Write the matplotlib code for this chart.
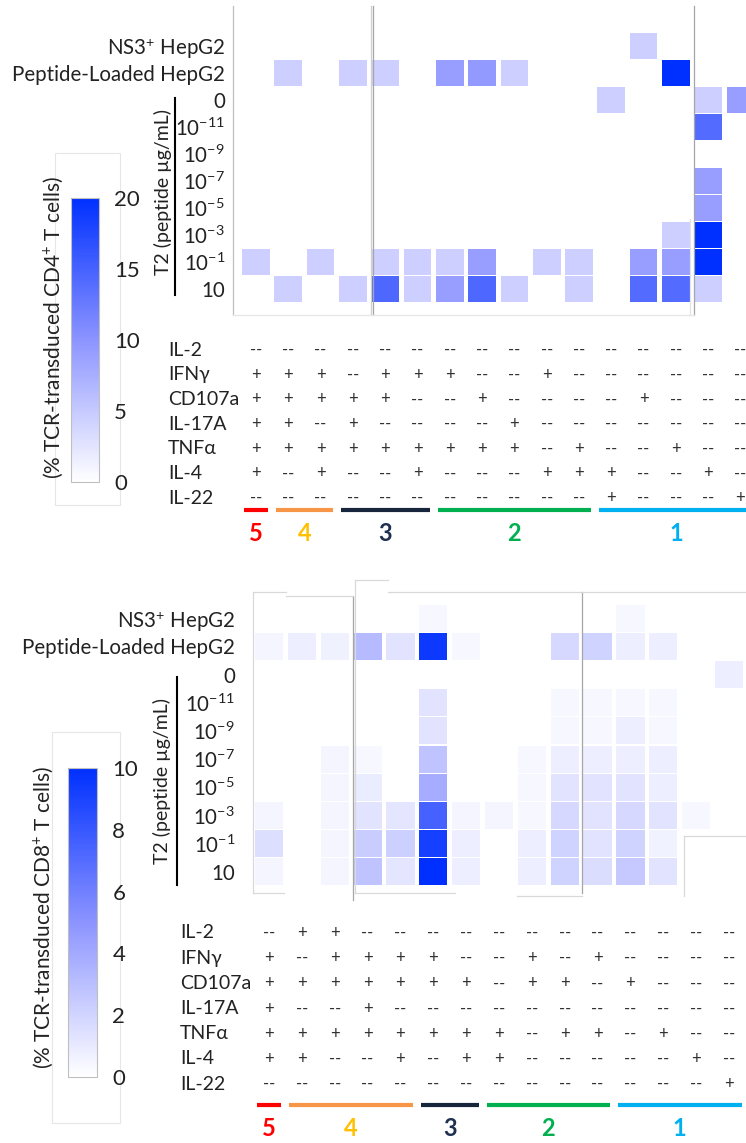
import numpy as np
import matplotlib
matplotlib.use('Agg')
import matplotlib.pyplot as plt
from matplotlib.colors import LinearSegmentedColormap, Normalize
from matplotlib.patches import Rectangle
from matplotlib.collections import PatchCollection
from matplotlib.cm import ScalarMappable

plt.rcParams['font.family'] = ['Lato', 'DejaVu Sans']
plt.rcParams['mathtext.default'] = 'regular'

# --- dados ---
targets = ['NS3$^{+}$ HepG2', 'Peptide-Loaded HepG2', '0', '10$^{-11}$', '10$^{-9}$',
           '10$^{-7}$', '10$^{-5}$', '10$^{-3}$', '10$^{-1}$', '10']
markers = ['IL-2', 'IFNγ', 'CD107a', 'IL-17A', 'TNFα', 'IL-4', 'IL-22']

# % TCR-transduced CD4+ T cells (linhas = alvos, colunas = combinacoes)
cd4_vals = np.array([
    [0, 0, 0, 0, 0, 0, 0, 0, 0, 0, 0, 0, 4.5, 0, 0, 0],
    [0, 4.5, 0, 4.5, 4.5, 0, 9, 9.5, 4.5, 0, 0, 0, 0, 20, 0, 0],
    [0, 0, 0, 0, 0, 0, 0, 0, 0, 0, 0, 4.5, 0, 0, 4.5, 9],
    [0, 0, 0, 0, 0, 0, 0, 0, 0, 0, 0, 0, 0, 0, 14, 0],
    [0, 0, 0, 0, 0, 0, 0, 0, 0, 0, 0, 0, 0, 0, 0, 0],
    [0, 0, 0, 0, 0, 0, 0, 0, 0, 0, 0, 0, 0, 0, 9, 0],
    [0, 0, 0, 0, 0, 0, 0, 0, 0, 0, 0, 0, 0, 0, 9, 0],
    [0, 0, 0, 0, 0, 0, 0, 0, 0, 0, 0, 0, 0, 4.5, 20, 0],
    [4.5, 0, 4.5, 0, 4.5, 4.5, 4.5, 9, 0, 4.5, 4.5, 0, 9, 9, 20, 0],
    [0, 4.5, 0, 4.5, 14.5, 4.5, 9, 14.5, 4.5, 0, 4.5, 0, 14, 14, 4.5, 0],
])
cd4_profile = ['----------------',
               '+++-+++--+------',
               '+++++--+----+---',
               '++-+----+-------',
               '+++++++++-+--+--',
               '+-+--+---+++--+-',
               '-----------+---+']
cd4_groups = [(5, 0, 0), (4, 1, 2), (3, 3, 5), (2, 6, 10), (1, 11, 15)]

# % TCR-transduced CD8+ T cells
cd8_vals = np.array([
    [0, 0, 0, 0, 0, 0.4, 0, 0, 0, 0, 0, 0.4, 0, 0, 0],
    [0.5, 0.8, 0.7, 3.2, 1.3, 9.5, 0.4, 0, 0, 1.8, 2.1, 0.8, 0.8, 0, 0],
    [0, 0, 0, 0, 0, 0, 0, 0, 0, 0, 0, 0, 0, 0, 0.8],
    [0, 0, 0, 0, 0, 1.3, 0, 0, 0, 0.4, 0.4, 0.4, 0.4, 0, 0],
    [0, 0, 0, 0, 0, 1.3, 0, 0, 0, 0.4, 0.4, 0.8, 0.4, 0, 0],
    [0, 0, 0.5, 0.4, 0, 2.8, 0, 0, 0.4, 0.8, 0.8, 0.8, 0.8, 0, 0],
    [0, 0, 0.5, 0.9, 0, 3.9, 0, 0, 0.4, 1.3, 1.3, 1.3, 0.8, 0, 0],
    [0.5, 0, 0.5, 1.3, 1.2, 7.5, 0.5, 0.5, 0.4, 1.8, 1.3, 1.8, 1.3, 0.4, 0],
    [1.5, 0, 0.5, 2.4, 2.2, 9.2, 0.8, 0, 0.8, 2.1, 1.3, 2.1, 0.6, 0, 0],
    [0.5, 0, 0.5, 2.8, 1.2, 10, 0.8, 0, 0.8, 2.1, 1.6, 2.5, 1.3, 0, 0],
])
cd8_profile = ['-++------------',
               '+-++++--+-+----',
               '+++++++-++-+---',
               '+--+-----------',
               '++++++++-++-+--',
               '++--+-++-----+-',
               '--------------+']
cd8_groups = [(5, 0, 0), (4, 1, 4), (3, 5, 6), (2, 7, 10), (1, 11, 14)]

line_col = {5: '#ff0000', 4: '#f79646', 3: '#17253d', 2: '#00b050', 1: '#00b0f0'}
num_col = {5: '#ff0000', 4: '#ffc000', 3: '#1f3050', 2: '#00b050', 1: '#00b0f0'}

cmap = LinearSegmentedColormap.from_list('azul', ['#ffffff', '#8c94ff', '#0030ff'])

W, H = 746, 1143
fig = plt.figure(figsize=(W / 100, H / 100), dpi=100)


def px_axes(left, top, right, bottom):
    ax = fig.add_axes([left / W, 1 - bottom / H, (right - left) / W, (bottom - top) / H])
    ax.set_facecolor('none')
    return ax


def grid_lims(ax, left, top, right, bottom, c0, cp, r0, rp):
    # limites em unidades de coluna/linha para a area em pixels
    ax.set_xlim((left - c0) / cp, (right - c0) / cp)
    ax.set_ylim((bottom - r0) / rp, (top - r0) / rp)
    for s in ax.spines.values():
        s.set_visible(False)


def heat(ax, vals, norm):
    rects, cores = [], []
    for i in range(vals.shape[0]):
        for j in range(vals.shape[1]):
            if vals[i, j] > 0:
                rects.append(Rectangle((j - 0.43, i - 0.48), 0.86, 0.96))
                cores.append(vals[i, j])
    pc = PatchCollection(rects, cmap=cmap, norm=norm, edgecolor='none')
    pc.set_array(np.array(cores))
    ax.add_collection(pc)
    ax.set_xticks([])
    ax.set_yticks(range(len(targets)))
    ax.set_yticklabels(targets, fontsize=14.8, color='#222222')
    ax.tick_params(axis='y', length=0, pad=2)


def table(ax, profile, groups, label_x, line_y, num_y):
    for k, row in enumerate(profile):
        ax.text(label_x, k, markers[k], ha='left', va='center', fontsize=14, color='#222222')
        for j, ch in enumerate(row):
            ax.text(j, k, '+' if ch == '+' else '--', ha='center', va='center',
                    fontsize=12, color='#333333')
    for num, a, b in groups:
        ax.plot([a - 0.38, b + 0.38], [line_y, line_y], color=line_col[num], lw=3,
                solid_capstyle='butt')
        ax.text((a + b) / 2, num_y, str(num), color=num_col[num], fontsize=17,
                fontweight='bold', ha='center', va='center')
    ax.set_xticks([])
    ax.set_yticks([])


def frames(ax, segs):
    for xs, ys, c in segs:
        ax.plot(xs, ys, color=c, lw=0.9, clip_on=False)


# ---------------- painel CD4 ----------------
c0, cp, r0, rp = 256, 32.3, 45.55, 27.1
norm4 = Normalize(0, 20)
ax4 = px_axes(228, 6, 760, 316)
grid_lims(ax4, 228, 6, 760, 316, c0, cp, r0, rp)
heat(ax4, cd4_vals, norm4)
frames(ax4, [([-0.71, -0.71], [-1.46, 9.94], '#bfbfbf'),
             ([3.56, 3.56], [-1.46, 9.94], '#cfcfcf'),
             ([3.62, 3.62], [-1.46, 9.94], '#a6a6a6'),
             ([13.44, 13.44], [6.4, 9.94], '#e3e3e3'),
             ([13.56, 13.56], [-1.46, 9.94], '#a6a6a6'),
             ([-0.71, 13.56], [9.94, 9.94], '#e6e6e6')])

t4 = px_axes(160, 335, 760, 545)
grid_lims(t4, 160, 335, 760, 545, c0, cp, 350, 24.7)
table(t4, cd4_profile, cd4_groups, -2.72, 6.48, 7.41)

# ---------------- painel CD8 ----------------
c0, cp, r0, rp = 269, 32.86, 618.1, 28.2
norm8 = Normalize(0, 10)
ax8 = px_axes(238, 577, 746, 905)
grid_lims(ax8, 238, 577, 746, 905, c0, cp, r0, rp)
heat(ax8, cd8_vals, norm8)
claro, medio = '#d9d9d9', '#a6a6a6'
frames(ax8, [([-0.49, -0.49], [-0.93, 9.75], claro),
             ([-0.49, 0.52], [-0.93, -0.93], claro),
             ([0.52, 2.56], [-0.8, -0.8], claro),
             ([-0.49, 0.45], [9.75, 9.75], claro),
             ([2.56, 2.56], [-0.75, 10.0], medio),
             ([2.62, 2.62], [-1.35, 9.75], claro),
             ([2.62, 3.62], [-1.35, -1.35], claro),
             ([3.62, 9.53], [-0.93, -0.93], claro),
             ([2.62, 5.66], [9.75, 9.75], claro),
             ([7.55, 9.53], [9.85, 9.85], claro),
             ([9.53, 9.53], [-0.93, 9.75], medio),
             ([9.53, 14.6], [-0.93, -0.93], claro),
             ([12.63, 12.63], [7.73, 9.85], claro),
             ([12.63, 14.6], [7.73, 7.73], claro)])

t8 = px_axes(170, 915, 746, 1143)
grid_lims(t8, 170, 915, 746, 1143, c0, cp, 933, 25.2)
table(t8, cd8_profile, cd8_groups, -2.71, 6.82, 7.77)

# ---------------- barras de cor e rotulos ----------------
over = px_axes(0, 0, W, H)
over.set_xlim(0, W)
over.set_ylim(H, 0)
over.axis('off')
over.add_patch(Rectangle((55, 153), 65, 352, fill=False, edgecolor='#e6e6e6', lw=0.8))
over.add_patch(Rectangle((52, 732), 68, 391, fill=False, edgecolor='#e6e6e6', lw=0.8))
over.plot([175, 175], [98, 295], color='black', lw=1.5)
over.plot([177, 177], [677, 885], color='black', lw=1.5)
over.text(163, 192, 'T2 (peptide µg/mL)', rotation=90, ha='center', va='center',
          fontsize=14, color='#222222')
over.text(162, 781, 'T2 (peptide µg/mL)', rotation=90, ha='center', va='center',
          fontsize=14, color='#222222')
over.text(53, 328, '(% TCR-transduced CD4$^{+}$ T cells)', rotation=90, ha='center',
          va='center', fontsize=15, color='#222222')
over.text(43, 918, '(% TCR-transduced CD8$^{+}$ T cells)', rotation=90, ha='center',
          va='center', fontsize=15, color='#222222')

for (l, t, r, b), nm, tk in [((71, 198, 99, 482), norm4, [0, 5, 10, 15, 20]),
                             ((68, 768, 97, 1077), norm8, [0, 2, 4, 6, 8, 10])]:
    cax = px_axes(l, t, r, b)
    cb = fig.colorbar(ScalarMappable(norm=nm, cmap=cmap), cax=cax, ticks=tk)
    cb.outline.set_edgecolor('#bfbfbf')
    cax.tick_params(length=0, pad=11, labelsize=16, labelcolor='#222222')

fig.savefig('out.png', dpi=100)
